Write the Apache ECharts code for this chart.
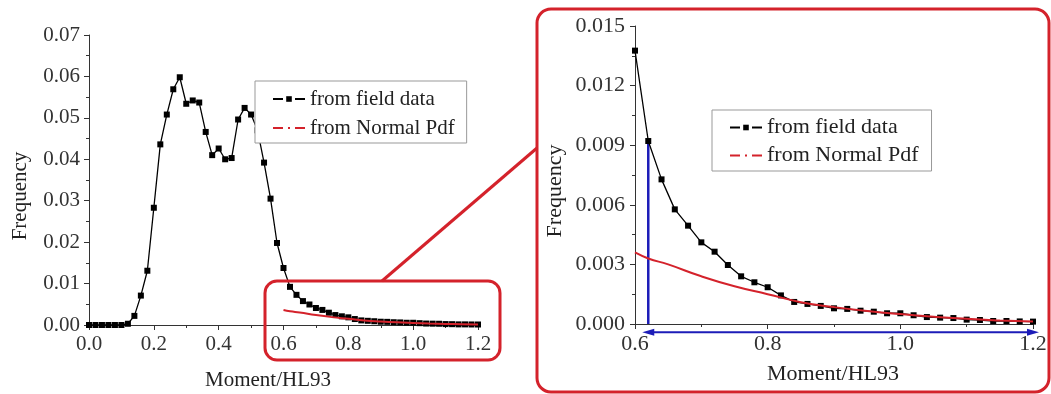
<!DOCTYPE html>
<html><head><meta charset="utf-8">
<script src="https://cdn.jsdelivr.net/npm/echarts@6/dist/echarts.min.js"></script>
<style>html,body{margin:0;padding:0;background:#fff}#c{width:1051px;height:394px}</style>
</head><body><div id="c"></div>
<script>
// ---- data ----
const momentX = [0.00,0.02,0.04,0.06,0.08,0.10,0.12,0.14,0.16,0.18,0.20,0.22,0.24,0.26,0.28,0.30,0.32,0.34,0.36,0.38,0.40,0.42,0.44,0.46,0.48,0.50,0.52,0.54,0.56,0.58,0.60,0.62,0.64,0.66,0.68,0.70,0.72,0.74,0.76,0.78,0.80,0.82,0.84,0.86,0.88,0.90,0.92,0.94,0.96,0.98,1.00,1.02,1.04,1.06,1.08,1.10,1.12,1.14,1.16,1.18,1.20];
const fieldFreq = [0,0,0,0,0,0,0.0003,0.0022,0.0071,0.0131,0.0283,0.0436,0.0508,0.0569,0.0598,0.0534,0.0542,0.0537,0.0466,0.0410,0.0426,0.0400,0.0403,0.0496,0.0524,0.0508,0.0470,0.0392,0.0305,0.0198,0.01376,0.00921,0.00728,0.00577,0.00495,0.00411,0.00364,0.00297,0.00240,0.00210,0.00185,0.00144,0.00111,0.00101,0.00091,0.00079,0.00076,0.00067,0.00062,0.00054,0.00054,0.00044,0.00035,0.00032,0.00030,0.00022,0.00020,0.00015,0.00015,0.00013,0.00012];
const pdfX = [0.60,0.62,0.65,0.70,0.75,0.80,0.85,0.90,0.95,1.00,1.05,1.10,1.15,1.20];
const pdfFreq = [0.0036,0.0033,0.0030,0.0024,0.0019,0.0015,0.0011,0.00085,0.00065,0.0005,0.00037,0.00026,0.00018,0.00012];
const leftXTicks = ['0.0','0.2','0.4','0.6','0.8','1.0','1.2'];
const leftYTicks = ['0.00','0.01','0.02','0.03','0.04','0.05','0.06','0.07'];
const rightXTicks = ['0.6','0.8','1.0','1.2'];
const rightYTicks = ['0.000','0.003','0.006','0.009','0.012','0.015'];
const zoomStartX = 0.60;
const cutX = 0.62;
const seriesNames = ['from field data','from Normal Pdf'];
const axisTitleX = 'Moment/HL93';
const axisTitleY = 'Frequency';

// ---- build ----
const FONT = 'Liberation Serif';
const RED = '#d4222b';
const BLUE = '#1c1cb8';
const fieldPts = momentX.map((x,i)=>[x,fieldFreq[i]]);
const fieldZoom = fieldPts.filter(p=>p[0] >= zoomStartX - 1e-9);
const pdfPts = pdfX.map((x,i)=>[x,pdfFreq[i]]);
const cutIdx = momentX.findIndex(x=>Math.abs(x-cutX)<1e-9);

function axisCommon(fs, margin){
  return {
    axisLine:{show:true,lineStyle:{color:'#333',width:1}},
    axisTick:{show:true,inside:false,length:5,lineStyle:{color:'#333'}},
    minorTick:{show:true,splitNumber:2,length:3,lineStyle:{color:'#333'}},
    splitLine:{show:false},
    axisLabel:{fontFamily:FONT,fontSize:fs,color:'#333',margin:margin}
  };
}

const xAxes = [
  Object.assign(axisCommon(21,9),{type:'value',gridIndex:0,min:0,max:1.2,interval:0.2}),
  Object.assign(axisCommon(22,9),{type:'value',gridIndex:1,min:0.6,max:1.2,interval:0.2})
];
xAxes[0].axisLabel.formatter = v => leftXTicks[Math.round(v/0.2)];
xAxes[1].axisLabel.formatter = v => rightXTicks[Math.round((v-0.6)/0.2)];
const yAxes = [
  Object.assign(axisCommon(21,9),{type:'value',gridIndex:0,min:0,max:0.07,interval:0.01}),
  Object.assign(axisCommon(22,10),{type:'value',gridIndex:1,min:0,max:0.015,interval:0.003})
];
yAxes[0].axisLabel.formatter = v => leftYTicks[Math.round(v/0.01)];
yAxes[1].axisLabel.formatter = v => rightYTicks[Math.round(v/0.003)];

function legendFor(left, top, fs, gap, pad){
  return {
    orient:'vertical', left:left, top:top, selectedMode:false,
    data:[
      {name:seriesNames[0], lineStyle:{type:[10,12,10]}},
      {name:seriesNames[1], itemStyle:{color:'rgba(0,0,0,0)',borderWidth:0}, lineStyle:{type:[10,5,2,5,10]}}
    ],
    itemWidth:32, itemHeight:7, itemGap:gap, padding:pad,
    borderColor:'#999', borderWidth:1, backgroundColor:'#fff',
    textStyle:{fontFamily:FONT,fontSize:fs,color:'#222',lineHeight:fs+3}
  };
}

const option = {
  animation:false,
  backgroundColor:'#fff',
  grid:[
    {left:89, top:35, width:389, height:290},
    {left:635, top:26, width:398, height:298}
  ],
  xAxis:xAxes, yAxis:yAxes,
  legend:[ legendFor(255,81,21,5,[6,12,3,17]), legendFor(712,110,22,3,[5,13,3,17]) ],
  series:[
    {name:seriesNames[0],type:'line',xAxisIndex:0,yAxisIndex:0,data:fieldPts,symbol:'rect',symbolSize:6,
     lineStyle:{color:'#000',width:1.3},itemStyle:{color:'#000'},z:3},
    {name:seriesNames[1],type:'line',xAxisIndex:0,yAxisIndex:0,data:pdfPts,smooth:true,symbol:'none',
     lineStyle:{color:RED,width:2},itemStyle:{color:RED},z:4},
    {name:seriesNames[0],type:'line',xAxisIndex:1,yAxisIndex:1,data:fieldZoom,symbol:'rect',symbolSize:6,
     lineStyle:{color:'#000',width:1.3},itemStyle:{color:'#000'},z:3},
    {name:seriesNames[1],type:'line',xAxisIndex:1,yAxisIndex:1,data:pdfPts,smooth:true,symbol:'none',
     lineStyle:{color:RED,width:2},itemStyle:{color:RED},z:4},
    {name:'cut',type:'line',xAxisIndex:1,yAxisIndex:1,data:[[cutX,0],[cutX,fieldFreq[cutIdx]]],symbol:'none',
     lineStyle:{color:BLUE,width:2.5},z:2},
    {name:'range',type:'line',xAxisIndex:1,yAxisIndex:1,clip:false,
     data:[{value:[cutX,-0.00042],symbol:'triangle',symbolRotate:90},{value:[1.2,-0.00042],symbol:'triangle',symbolRotate:-90}],
     symbolSize:[7,12],lineStyle:{color:BLUE,width:2},itemStyle:{color:BLUE},z:2}
  ],
  graphic:[
    {type:'rect',shape:{x:265,y:281,width:235,height:79,r:12},style:{fill:null,stroke:RED,lineWidth:3},z:10},
    {type:'line',shape:{x1:382,y1:281,x2:537,y2:148},style:{stroke:RED,lineWidth:3},z:10},
    {type:'rect',shape:{x:537,y:9,width:512,height:383,r:14},style:{fill:null,stroke:RED,lineWidth:3},z:10},
    {type:'text',x:20,y:196,rotation:Math.PI/2,style:{text:axisTitleY,font:'21px "Liberation Serif"',fill:'#222',align:'center',verticalAlign:'middle'}},
    {type:'text',x:555,y:191,rotation:Math.PI/2,style:{text:axisTitleY,font:'22px "Liberation Serif"',fill:'#222',align:'center',verticalAlign:'middle'}},
    {type:'text',x:268,y:380,style:{text:axisTitleX,font:'21px "Liberation Serif"',fill:'#222',align:'center',verticalAlign:'middle'}},
    {type:'text',x:833,y:374,style:{text:axisTitleX,font:'22px "Liberation Serif"',fill:'#222',align:'center',verticalAlign:'middle'}}
  ]
};
const chart = echarts.init(document.getElementById('c'),null,{renderer:'canvas'});
chart.setOption(option);
</script></body></html>
